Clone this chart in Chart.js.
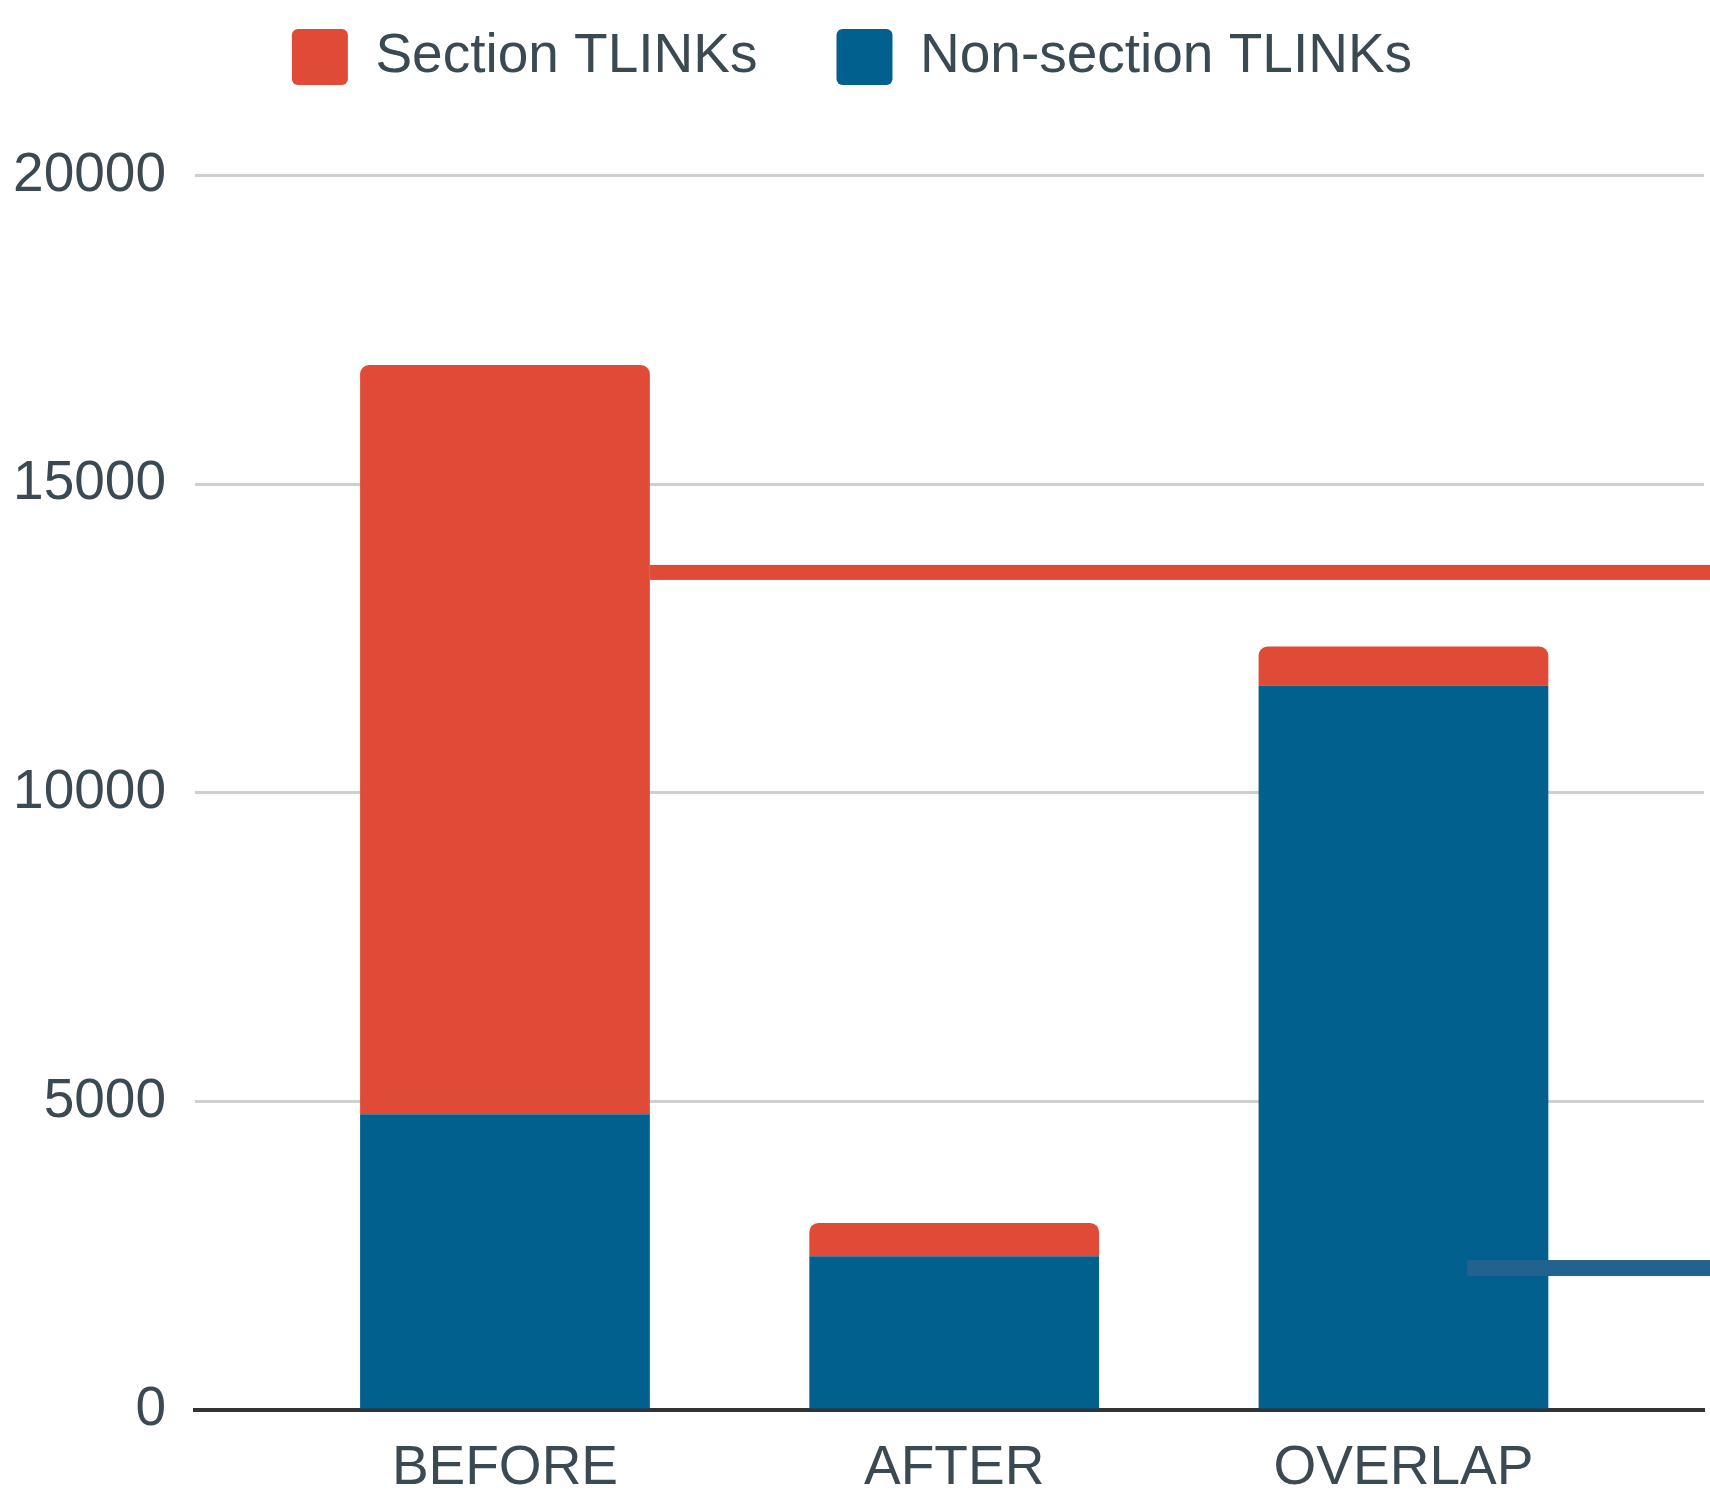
<!DOCTYPE html>
<html>
<head>
<meta charset="utf-8">
<title>TLINK counts by relation type</title>
<script src="https://cdn.jsdelivr.net/npm/chart.js@4.4.1/dist/chart.umd.min.js"></script>
<style>
  html, body { margin: 0; padding: 0; background: #ffffff; }
  #wrap { width: 1710px; height: 1501px; }
</style>
</head>
<body>
<div id="wrap"><canvas id="chart" width="1710" height="1501"></canvas></div>
<script>
// Relation types on the x axis
const categories = ['BEFORE', 'AFTER', 'OVERLAP'];
// TLINK counts per relation type
const nonSectionLinks = [4790, 2490, 11740];
const sectionLinks = [12140, 540, 630];
// Value axis ticks
const yTicks = [0, 5000, 10000, 15000, 20000];
// Horizontal level markers (section, non-section)
const markerLevels = [13570, 2300];

const RED = '#e04b37';
const BLUE = '#02608f';
const TEXT = '#3b4a52';
const FONT = '"Liberation Sans", Arial, Helvetica, sans-serif';

Chart.defaults.font.family = FONT;
Chart.defaults.color = TEXT;

// Horizontal marker bars running out to the right edge of the canvas
const levelMarkers = {
  id: 'levelMarkers',
  afterDatasetsDraw(chart) {
    const { ctx, scales: { x, y } } = chart;
    const beforeBar = chart.getDatasetMeta(1).data[0];
    const marks = [
      { value: markerLevels[0], from: beforeBar.x + beforeBar.width / 2, color: RED, thickness: 15 },
      { value: markerLevels[1], from: x.getPixelForValue(2.142), color: '#22628f', thickness: 16 }
    ];
    ctx.save();
    marks.forEach(m => {
      const py = y.getPixelForValue(m.value);
      ctx.fillStyle = m.color;
      ctx.fillRect(m.from, py - m.thickness / 2, chart.width - m.from, m.thickness);
    });
    ctx.restore();
  }
};

new Chart(document.getElementById('chart'), {
  type: 'bar',
  data: {
    datasets: [
      {
        label: 'Non-section TLINKs',
        data: nonSectionLinks.map((v, i) => ({ x: i, y: v })),
        backgroundColor: BLUE,
        borderWidth: 0,
        borderRadius: 9
      },
      {
        label: 'Section TLINKs',
        data: sectionLinks.map((v, i) => ({ x: i, y: v })),
        backgroundColor: RED,
        borderWidth: 0,
        borderRadius: 9
      }
    ]
  },
  options: {
    responsive: false,
    devicePixelRatio: 1,
    animation: false,
    layout: { padding: { top: -50, right: 6, bottom: 0, left: 0 } },
    datasets: {
      bar: { categoryPercentage: 1, barPercentage: 0.645, borderSkipped: 'start' }
    },
    plugins: {
      tooltip: { enabled: false },
      legend: {
        position: 'top',
        reverse: true,
        labels: {
          boxWidth: 56,
          boxHeight: 56,
          padding: 79,
          useBorderRadius: true,
          borderRadius: 6,
          color: TEXT,
          font: { size: 55, family: FONT }
        }
      }
    },
    scales: {
      x: {
        type: 'linear',
        offset: false,
        stacked: true,
        min: -0.69,
        max: 2.669,
        grid: { display: false, drawTicks: false, offset: false },
        border: { display: true, color: '#333333', width: 4 },
        ticks: {
          maxRotation: 0,
          autoSkip: false,
          padding: 26,
          color: TEXT,
          font: { size: 55, family: FONT },
          callback: v => (Number.isInteger(v) && categories[v] !== undefined) ? categories[v] : ''
        },
        afterBuildTicks: s => { s.ticks = categories.map((c, i) => ({ value: i })); },
        afterFit: s => { s.height = 91; }
      },
      y: {
        stacked: true,
        min: 0,
        max: 21305,
        grid: {
          drawTicks: false,
          lineWidth: 3,
          color: c => (c.tick && c.tick.value === 0) ? 'rgba(0,0,0,0)' : '#cfcfcf'
        },
        border: { display: false },
        ticks: {
          padding: 29,
          color: TEXT,
          font: { size: 55, family: FONT },
          callback: v => String(v)
        },
        afterBuildTicks: s => { s.ticks = yTicks.map(v => ({ value: v })); },
        afterFit: s => { s.width = 195; }
      }
    }
  },
  plugins: [levelMarkers]
});
</script>
</body>
</html>
